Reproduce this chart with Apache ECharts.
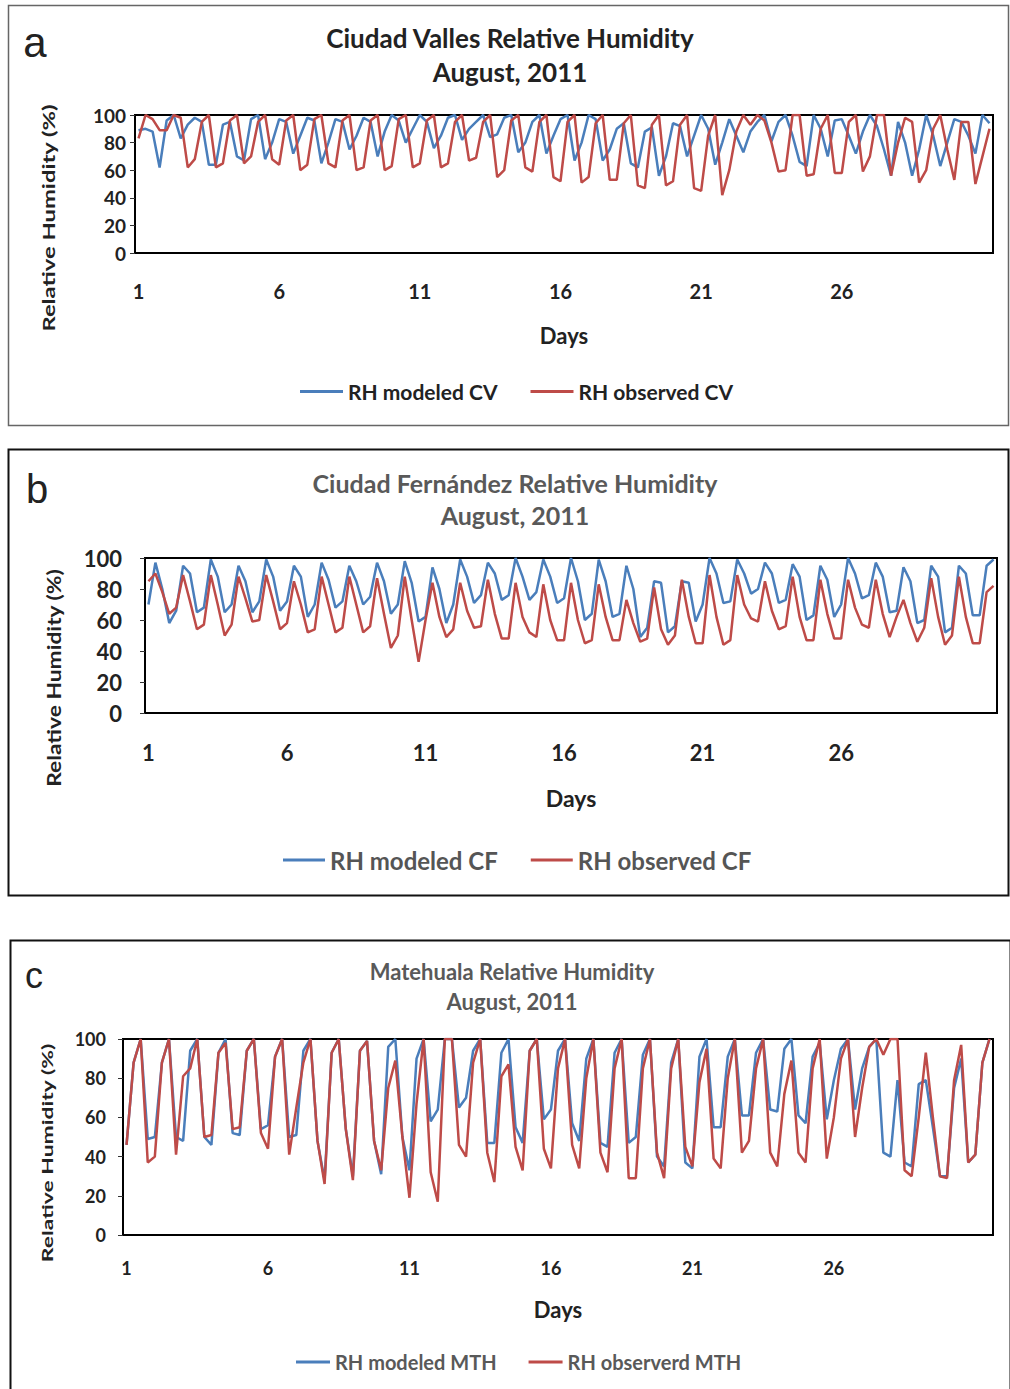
<!DOCTYPE html>
<html>
<head>
<meta charset="utf-8">
<script src="https://cdn.jsdelivr.net/npm/echarts@6/dist/echarts.min.js"></script>
<style>
  html, body { margin: 0; padding: 0; background: #fff; }
  #main { width: 1010px; height: 1389px; }
</style>
</head>
<body>
<div id="main"></div>
<script>
// 6-hourly samples, August 2011 (4 per day); CV has 122 samples, CF and MTH 123
function dayList(n) {
  const out = [];
  for (let i = 0; i < n; i++) out.push(String(Math.floor(i / 4) + 1));
  return out;
}
const daysCV = dayList(122);
const daysCF = dayList(123);
const daysMTH = dayList(123);

// a - Ciudad Valles
const modCV = [
  89, 90, 88, 62,  96, 100, 83, 93,  98, 95, 64, 64,  93, 95, 70, 67,
  97, 100, 68, 80,  97, 95, 72, 85,  98, 96, 65, 80,  97, 95, 75, 85,
  98, 95, 70, 88,  100, 96, 80, 90,  100, 95, 76, 85,  98, 100, 82, 90,
  95, 100, 84, 86,  98, 100, 73, 80,  95, 100, 72, 85,  97, 100, 67, 80,
  100, 97, 67, 75,  90, 94, 65, 62,  88, 91, 56, 70,  94, 92, 70, 85,
  100, 90, 64, 80,  97, 85, 73, 88,  95, 100, 81, 95,  100, 85, 66, 63,
  100, 90, 70, 96,  97, 85, 72, 88,  100, 92, 75, 56,  95, 80, 56, 75,
  100, 85, 63, 80,  97, 95, 85, 72,  100, 94
];
const obsCV = [
  83, 100, 97, 89,  89, 100, 98, 62,  68, 95, 100, 62,  65, 96, 100, 65,
  70, 95, 100, 68,  64, 96, 100, 60,  64, 97, 100, 65,  62, 96, 100, 60,
  62, 96, 100, 60,  63, 97, 100, 62,  65, 96, 100, 62,  65, 95, 100, 67,
  69, 95, 100, 55,  60, 96, 100, 62,  59, 95, 100, 55,  52, 95, 100, 51,
  55, 94, 100, 53,  53, 94, 100, 49,  47, 93, 100, 49,  52, 93, 100, 47,
  45, 85, 100, 42,  60, 88, 100, 93,  100, 96, 80, 59,  60, 100, 100, 56,
  57, 90, 100, 58,  58, 95, 100, 59,  70, 100, 100, 56,  80, 98, 95, 51,
  60, 90, 100, 75,  53, 95, 95, 50,  70, 90
];

// b - Ciudad Fernandez
const modCF = [
  70, 97, 80, 58,  66, 95, 90, 65,  68, 99, 88, 65,  70, 95, 85, 65,
  72, 99, 88, 66,  72, 95, 88, 62,  70, 97, 86, 68,  72, 95, 85, 70,
  75, 97, 85, 64,  70, 98, 84, 59,  62, 94, 80, 58,  70, 99, 88, 71,
  76, 97, 90, 73,  76, 100, 88, 73,  78, 99, 88, 71,  74, 100, 85, 60,
  64, 99, 85, 62,  64, 95, 80, 49,  55, 85, 84, 52,  56, 85, 84, 59,
  70, 100, 90, 71,  72, 99, 90, 77,  80, 97, 90, 71,  73, 96, 88, 60,
  63, 95, 86, 62,  70, 100, 90, 74,  76, 97, 88, 65,  66, 94, 85, 58,
  60, 95, 88, 52,  55, 95, 90, 63,  63, 95, 99
];
const obsCF = [
  85, 90, 78, 64,  68, 89, 72, 54,  57, 89, 70, 50,  57, 88, 74, 59,
  60, 89, 72, 54,  58, 85, 70, 52,  54, 88, 70, 52,  55, 88, 70, 52,
  56, 87, 64, 42,  50, 88, 60, 33,  60, 84, 62, 49,  54, 84, 66, 55,
  56, 86, 64, 48,  48, 84, 62, 52,  49, 83, 60, 47,  47, 84, 60, 45,
  47, 83, 62, 47,  47, 73, 58, 46,  48, 81, 54, 44,  50, 86, 62, 45,
  45, 89, 62, 44,  47, 89, 70, 61,  59, 85, 66, 54,  56, 88, 62, 47,
  47, 86, 64, 48,  48, 86, 68, 57,  55, 86, 64, 49,  62, 73, 58, 46,
  55, 87, 62, 44,  50, 88, 62, 45,  45, 78, 82
];

// c - Matehuala
const modMTH = [
  46, 88, 100, 49,  50, 88, 100, 50,  48, 94, 100, 50,  46, 93, 100, 52,
  51, 94, 100, 54,  56, 91, 100, 50,  51, 94, 100, 48,  28, 93, 100, 54,
  30, 94, 99, 48,  31, 96, 100, 50,  33, 90, 100, 58,  64, 100, 100, 65,
  70, 94, 100, 47,  47, 93, 100, 55,  47, 94, 100, 59,  64, 94, 100, 57,
  48, 90, 100, 47,  45, 93, 100, 47,  50, 92, 100, 40,  35, 88, 100, 37,
  34, 91, 100, 55,  55, 91, 100, 61,  61, 93, 100, 64,  63, 95, 100, 61,
  57, 91, 98, 59,  79, 95, 100, 64,  85, 96, 100, 42,  40, 79, 37, 35,
  77, 79, 55, 30,  30, 75, 90, 37,  41, 88, 100
];
const obsMTH = [
  46, 88, 100, 37,  40, 88, 100, 41,  81, 85, 100, 50,  51, 93, 98, 54,
  55, 94, 100, 52,  44, 91, 100, 41,  65, 88, 100, 48,  26, 93, 100, 54,
  28, 94, 99, 48,  33, 75, 89, 50,  19, 67, 100, 32,  17, 100, 100, 46,
  40, 88, 100, 42,  27, 81, 87, 45,  33, 94, 100, 44,  34, 85, 100, 46,
  34, 80, 100, 42,  32, 85, 100, 29,  29, 85, 100, 42,  29, 85, 100, 45,
  35, 78, 95, 39,  34, 80, 100, 42,  48, 85, 100, 42,  35, 72, 89, 42,
  37, 85, 100, 39,  60, 90, 100, 50,  75, 96, 100, 92,  100, 100, 33, 30,
  60, 93, 60, 30,  29, 79, 97, 37,  41, 88, 100
];

const BLUE = '#4a7ebb';
const RED = '#be4b48';
const FONT = 'Lato';

// one entry per panel: where it sits and how its text is sized
const panels = [
  { left: 135, top: 115, width: 858, height: 138, tick: 19, xTick: 20, tickMargin: 9, xMargin: 28, daysGap: 71, daysSize: 22,
    legendTop: 376, legendLeft: 295, legendSize: 21, legendGap: 33, legendW: 43, legendColor: '#222',
    names: ['RH modeled CV', 'RH observed CV'], days: daysCV, data: [modCV, obsCV] },
  { left: 145, top: 558, width: 852, height: 155, tick: 22, xTick: 22, tickMargin: 23, xMargin: 28, daysGap: 73, daysSize: 23,
    legendTop: 843, legendLeft: 278, legendSize: 24, legendGap: 33, legendW: 42, legendColor: '#555',
    names: ['RH modeled CF', 'RH observed CF'], days: daysCF, data: [modCF, obsCF] },
  { left: 123, top: 1039, width: 870, height: 196, tick: 18, xTick: 18, tickMargin: 17, xMargin: 24, daysGap: 63, daysSize: 22,
    legendTop: 1347, legendLeft: 291, legendSize: 20, legendGap: 32, legendW: 34, legendColor: '#595959',
    names: ['RH modeled MTH', 'RH observerd MTH'], days: daysMTH, data: [modMTH, obsMTH] }
];

const grid = [], xAxis = [], yAxis = [], series = [], legend = [];

panels.forEach((p, k) => {
  grid.push({
    left: p.left, top: p.top, width: p.width, height: p.height,
    show: true, borderColor: '#000', borderWidth: 2, backgroundColor: 'transparent'
  });
  xAxis.push({
    type: 'category', gridIndex: k, data: p.days, boundaryGap: true,
    axisLine: { lineStyle: { color: '#000', width: 2 } },
    axisTick: { interval: (i) => i % 5 === 0, length: 5, lineStyle: { color: '#333', width: 1 } },
    axisLabel: {
      interval: (i) => i % 20 === 0 && i <= 100,
      margin: p.xMargin, fontSize: p.xTick, fontWeight: 'bold', color: '#222', fontFamily: FONT
    },
    name: 'Days', nameLocation: 'middle', nameGap: p.daysGap,
    nameTextStyle: { fontSize: p.daysSize, fontWeight: 'bold', color: '#222', fontFamily: FONT }
  });
  yAxis.push({
    type: 'value', gridIndex: k, min: 0, max: 100, interval: 20,
    axisLine: { show: true, lineStyle: { color: '#000', width: 2 } },
    axisTick: { show: true, length: 5, lineStyle: { color: '#333', width: 1 } },
    splitLine: { show: false },
    axisLabel: { margin: p.tickMargin, fontSize: p.tick, fontWeight: 'bold', color: '#222', fontFamily: FONT }
  });
  [BLUE, RED].forEach((c, j) => {
    series.push({
      type: 'line', name: p.names[j], xAxisIndex: k, yAxisIndex: k,
      data: p.data[j], symbol: 'none', smooth: false,
      lineStyle: { color: c, width: 2.5 }, itemStyle: { color: c }, z: 2 + j
    });
  });
  legend.push({
    data: p.names, left: p.legendLeft, top: p.legendTop, orient: 'horizontal',
    icon: 'rect', itemWidth: p.legendW, itemHeight: 3, itemGap: p.legendGap,
    selectedMode: false,
    textStyle: { fontSize: p.legendSize, fontWeight: 'bold', color: p.legendColor, fontFamily: FONT }
  });
});

function label(text, x, y, size, color, extra) {
  return Object.assign({
    type: 'text', x: x, y: y, silent: true,
    style: { text: text, x: 0, y: 0, fill: color, font: size, textAlign: 'center', textVerticalAlign: 'middle' }
  }, extra || {});
}

const graphic = [
  // panel frames
  { type: 'rect', shape: { x: 8.5, y: 5.5, width: 1000, height: 420 }, style: { fill: 'none', stroke: '#666', lineWidth: 1.5 }, silent: true },
  { type: 'rect', shape: { x: 8.5, y: 449.5, width: 1000, height: 446 }, style: { fill: 'none', stroke: '#111', lineWidth: 2 }, silent: true },
  { type: 'rect', shape: { x: 10.5, y: 940.5, width: 1000, height: 460 }, style: { fill: 'none', stroke: '#111', lineWidth: 2 }, silent: true },
  // panel letters
  label('a', 35, 42, '42px "Liberation Sans"', '#222'),
  label('b', 37, 489, '40px "Liberation Sans"', '#222'),
  label('c', 34, 975, '36px "Liberation Sans"', '#222'),
  // titles
  label('Ciudad Valles Relative Humidity', 510, 38, 'bold 26px Lato', '#222'),
  label('August, 2011', 510, 72, 'bold 26px Lato', '#222'),
  label('Ciudad Fernández Relative Humidity', 515, 483, 'bold 25px Lato', '#595959'),
  label('August, 2011', 515, 515, 'bold 25px Lato', '#595959'),
  label('Matehuala Relative Humidity', 512, 971, 'bold 22px Lato', '#595959'),
  label('August, 2011', 512, 1001, 'bold 22px Lato', '#595959'),
  // y axis names (drawn long and narrow like the source)
  label('Relative Humidity (%)', 48, 218, 'bold 17px Lato', '#222', { rotation: Math.PI / 2, scaleX: 1.4 }),
  label('Relative Humidity (%)', 53, 678, 'bold 19px Lato', '#222', { rotation: Math.PI / 2, scaleX: 1.2 }),
  label('Relative Humidity (%)', 47, 1153, 'bold 16px Lato', '#222', { rotation: Math.PI / 2, scaleX: 1.43 })
];

const chart = echarts.init(document.getElementById('main'), null, { renderer: 'svg' });
chart.setOption({
  animation: false,
  backgroundColor: '#fff',
  grid: grid,
  xAxis: xAxis,
  yAxis: yAxis,
  legend: legend,
  series: series,
  graphic: graphic
});
</script>
</body>
</html>
